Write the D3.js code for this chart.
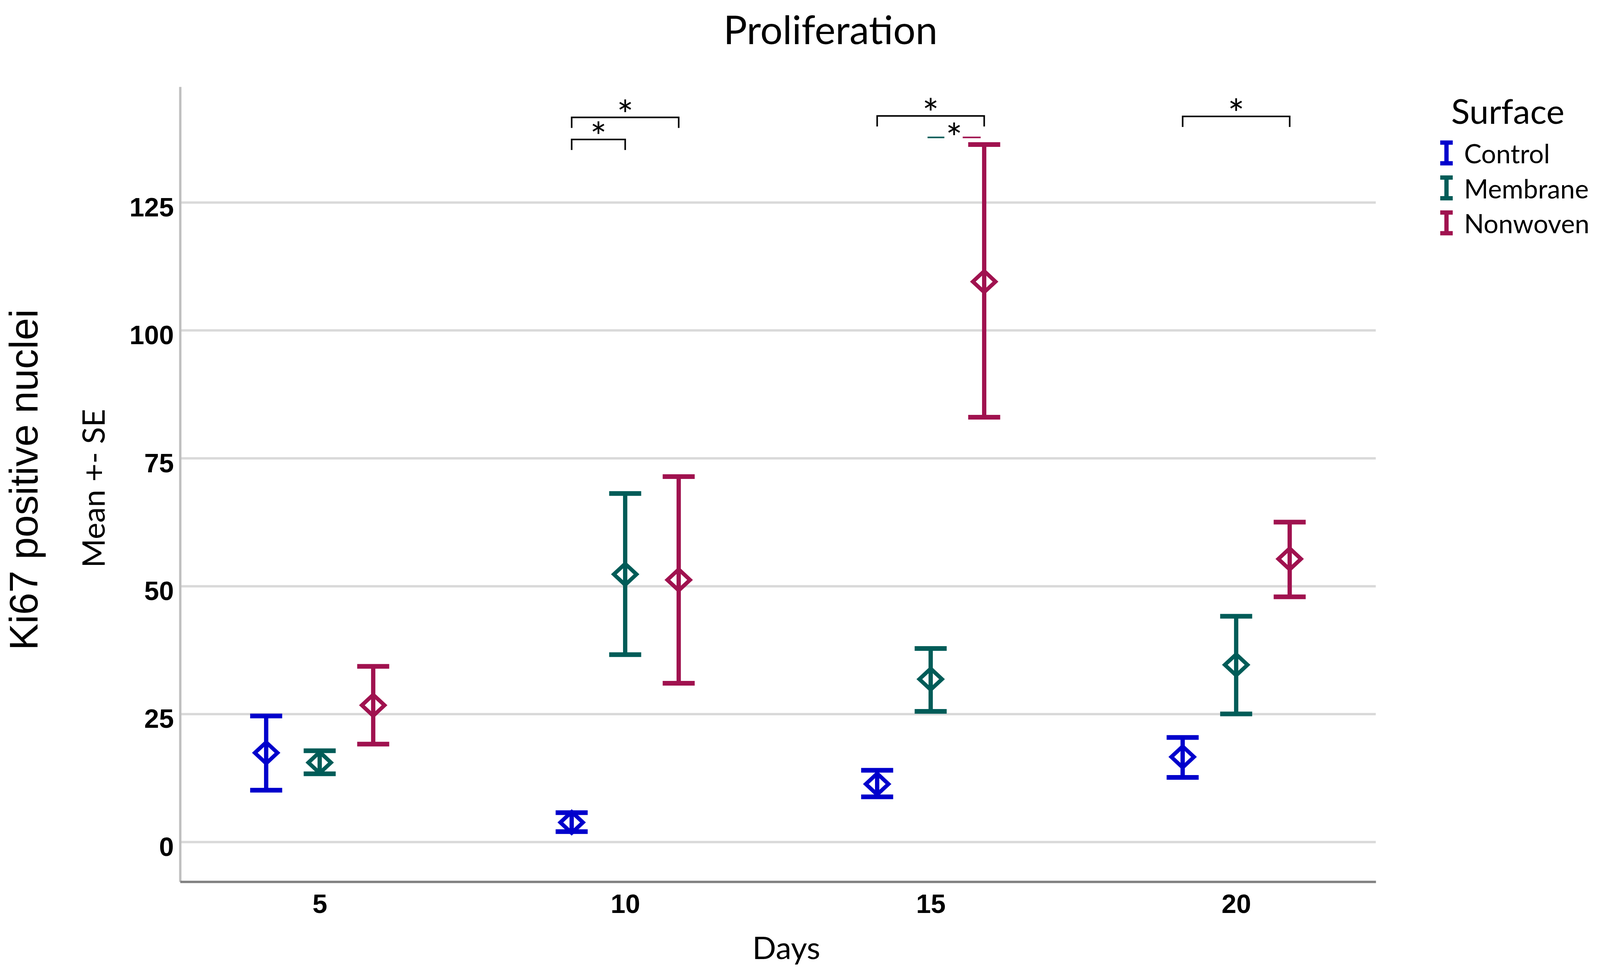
<!DOCTYPE html>
<html>
<head>
<meta charset="utf-8">
<script src="https://cdn.jsdelivr.net/npm/d3@7"></script>
<style>
  body { margin: 0; background: #fff; }
  svg { display: block; }
</style>
</head>
<body>
<svg id="chart" width="4103" height="2483"></svg>
<script>
  // data (mean and +- SE bounds per day)
  var days = [5, 10, 15, 20];
  var surfaces = ['Control', 'Membrane', 'Nonwoven'];
  var yTicks = [0, 25, 50, 75, 100, 125];

  var controlMean = [17.4, 3.8, 11.3, 16.6];
  var controlLow  = [10.1, 2.0, 8.8, 12.6];
  var controlHigh = [24.6, 5.7, 14.0, 20.4];

  var membraneMean = [15.5, 52.3, 31.8, 34.6];
  var membraneLow  = [13.3, 36.6, 25.5, 25.0];
  var membraneHigh = [17.8, 68.1, 37.8, 44.1];

  var nonwovenMean = [26.7, 51.2, 109.5, 55.3];
  var nonwovenLow  = [19.1, 31.0, 83.0, 47.9];
  var nonwovenHigh = [34.3, 71.4, 136.3, 62.5];

  // significance brackets: day, compared groups, height of bracket in y units
  var sigDays   = [10, 10, 15, 20];
  var sigFrom   = ['Control', 'Control', 'Control', 'Control'];
  var sigTo     = ['Nonwoven', 'Membrane', 'Nonwoven', 'Nonwoven'];
  var sigLevels = [141.6, 137.3, 141.9, 141.8];
  // the small coloured one at day 15 (Membrane vs Nonwoven)
  var pairDay = 15, pairFrom = 'Membrane', pairTo = 'Nonwoven', pairLevel = 137.7;

  var colors = {Control: '#0000CC', Membrane: '#005C58', Nonwoven: '#A0124F'};
  var series = {
    Control:  [controlMean, controlLow, controlHigh],
    Membrane: [membraneMean, membraneLow, membraneHigh],
    Nonwoven: [nonwovenMean, nonwovenLow, nonwovenHigh]
  };

  var svg = d3.select('#chart');
  var plotLeft = 461, plotRight = 3522, plotTop = 222, plotBottom = 2257;

  var x = d3.scalePoint().domain(days).range([plotLeft, plotRight]).padding(0.457);
  var dodge = d3.scalePoint().domain(surfaces).range([-137, 137]);
  var y = d3.scaleLinear().domain([-7.79, 147.6]).range([plotBottom, plotTop]);

  var points = [];
  surfaces.forEach(function(s) {
    days.forEach(function(d, i) {
      points.push({surface: s, day: d, mean: series[s][0][i], low: series[s][1][i], high: series[s][2][i]});
    });
  });
  var px = function(p) { return x(p.day) + dodge(p.surface); };

  // gridlines
  svg.append('g').attr('transform', 'translate(' + plotLeft + ',0)')
    .call(d3.axisLeft(y).tickValues(yTicks).tickSize(-(plotRight - plotLeft)).tickFormat(''))
    .call(function(g) {
      g.select('.domain').remove();
      g.selectAll('line').attr('stroke', '#D9D9D9').attr('stroke-width', 6);
    });

  // y axis
  svg.append('g').attr('transform', 'translate(' + plotLeft + ',0)')
    .call(d3.axisLeft(y).tickValues(yTicks).tickSize(0).tickSizeOuter(0).tickPadding(16))
    .call(function(g) {
      g.select('.domain').attr('stroke', '#BFBFBF').attr('stroke-width', 6);
      g.selectAll('text').attr('dy', '0.52em')
        .style('font-family', '"Liberation Sans", Arial, sans-serif')
        .style('font-weight', 'bold').style('font-size', '68px').attr('fill', '#000');
    });

  // x axis
  svg.append('g').attr('transform', 'translate(0,' + plotBottom + ')')
    .call(d3.axisBottom(x).tickSize(0).tickSizeOuter(0).tickPadding(32))
    .call(function(g) {
      g.select('.domain').attr('stroke', '#808080').attr('stroke-width', 6);
      g.selectAll('text')
        .style('font-family', '"Liberation Sans", Arial, sans-serif')
        .style('font-weight', 'bold').style('font-size', '68px').attr('fill', '#000');
    });

  // error bars
  var bars = svg.append('g').selectAll('g').data(points).enter().append('g')
    .attr('stroke', function(p) { return colors[p.surface]; })
    .attr('fill', 'none');
  bars.append('line').attr('stroke-width', 11)
    .attr('x1', px).attr('x2', px)
    .attr('y1', function(p) { return y(p.low); })
    .attr('y2', function(p) { return y(p.high); });
  ['low', 'high'].forEach(function(k) {
    bars.append('line').attr('stroke-width', 12)
      .attr('x1', function(p) { return px(p) - 41; })
      .attr('x2', function(p) { return px(p) + 41; })
      .attr('y1', function(p) { return y(p[k]); })
      .attr('y2', function(p) { return y(p[k]); });
  });
  bars.append('path').attr('stroke-width', 10)
    .attr('d', 'M0,-27L29,0L0,27L-29,0Z')
    .attr('transform', function(p) { return 'translate(' + px(p) + ',' + y(p.mean) + ')'; });

  // significance brackets
  var sig = svg.append('g');
  var starFont = 'Lato, "Open Sans", sans-serif';
  sigDays.forEach(function(d, i) {
    var x1 = x(d) + dodge(sigFrom[i]), x2 = x(d) + dodge(sigTo[i]), yy = y(sigLevels[i]);
    sig.append('path')
      .attr('d', 'M' + x1 + ',' + (yy + 27) + 'V' + yy + 'H' + x2 + 'V' + (yy + 27))
      .attr('fill', 'none').attr('stroke', '#000').attr('stroke-width', 4);
    sig.append('text').attr('x', (x1 + x2) / 2).attr('y', yy + 30)
      .attr('text-anchor', 'middle').style('font-family', starFont).style('font-size', '100px')
      .text('*');
  });
  (function() {
    var xa = x(pairDay) + dodge(pairFrom) - 8, xb = x(pairDay) + dodge(pairTo) - 9;
    var mid = (xa + xb) / 2, yy = y(pairLevel);
    sig.append('line').attr('x1', xa).attr('x2', mid - 25).attr('y1', yy).attr('y2', yy)
      .attr('stroke', colors[pairFrom]).attr('stroke-width', 4);
    sig.append('line').attr('x1', mid + 22).attr('x2', xb).attr('y1', yy).attr('y2', yy)
      .attr('stroke', colors[pairTo]).attr('stroke-width', 4);
    sig.append('text').attr('x', mid).attr('y', yy + 38)
      .attr('text-anchor', 'middle').style('font-family', starFont).style('font-size', '100px')
      .text('*');
  })();

  // titles
  var label = 'Lato, "Open Sans", sans-serif';
  svg.append('text').attr('x', 2126).attr('y', 113).attr('text-anchor', 'middle')
    .style('font-family', label).style('font-size', '101px').text('Proliferation');
  svg.append('text').attr('x', 2013).attr('y', 2455).attr('text-anchor', 'middle')
    .style('font-family', label).style('font-size', '80px').text('Days');
  svg.append('text').attr('transform', 'translate(96,1228) rotate(-90)').attr('text-anchor', 'middle')
    .style('font-family', '"Liberation Sans", Arial, sans-serif').style('font-size', '102px')
    .text('Ki67 positive nuclei');
  svg.append('text').attr('transform', 'translate(268,1250) rotate(-90)').attr('text-anchor', 'middle')
    .style('font-family', label).style('font-size', '80px').text('Mean +- SE');

  // legend
  var legend = svg.append('g').attr('transform', 'translate(-9,0)');
  legend.append('text').attr('x', 3724).attr('y', 317)
    .style('font-family', label).style('font-size', '88px').text('Surface');
  var items = legend.selectAll('.item').data(surfaces).enter().append('g')
    .attr('class', 'item')
    .attr('transform', function(s, i) { return 'translate(3712,' + (418 + i * 89.5) + ')'; });
  items.append('path').attr('fill', 'none').attr('stroke-width', 11)
    .attr('stroke', function(s) { return colors[s]; })
    .attr('d', 'M-16,-53H16M0,-53V0M-16,0H16');
  items.append('text').attr('x', 45)
    .style('font-family', label).style('font-size', '67px').text(String);
</script>
</body>
</html>
